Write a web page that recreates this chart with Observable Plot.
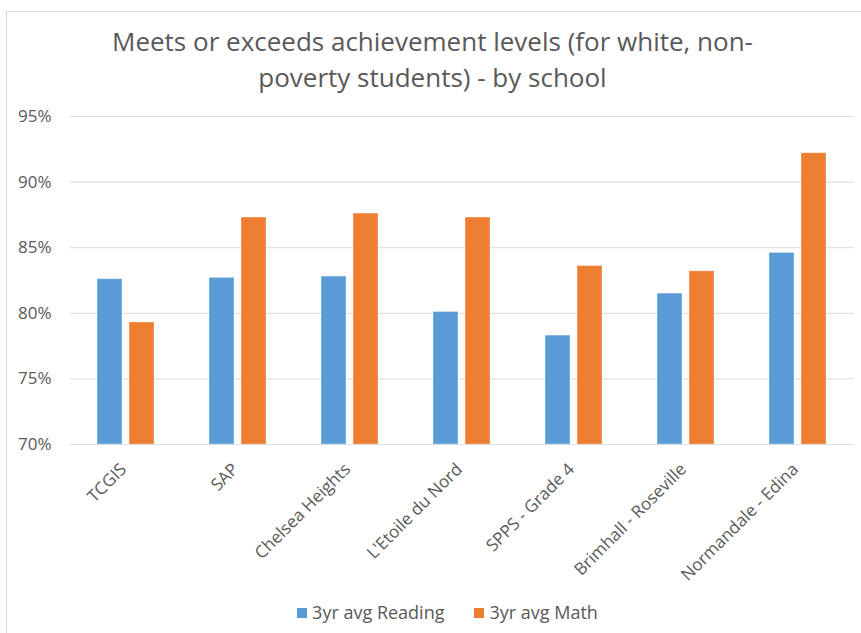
<!DOCTYPE html>
<html><head><meta charset="utf-8">
<script src="https://cdn.jsdelivr.net/npm/d3@7"></script>
<script src="https://cdn.jsdelivr.net/npm/@observablehq/plot@0.6"></script>
<style>
body{margin:0;background:#fff;font-family:"Open Sans",sans-serif;}
#chart{position:relative;width:861px;height:633px;overflow:hidden;}
#frame{position:absolute;left:6px;top:11px;width:900px;height:700px;border:1px solid #d9d9d9;box-sizing:border-box;}
#title{position:absolute;left:0;top:23px;width:861px;text-align:center;font-size:26px;line-height:36px;color:#595959;padding-left:4px;box-sizing:border-box;}
#plot{position:absolute;left:0;top:100px;}
#legend{position:absolute;left:0;top:600px;width:861px;display:flex;justify-content:center;gap:30px;font-size:18px;color:#595959;padding-left:34px;box-sizing:border-box;}
#legend span.sw{display:inline-block;width:10px;height:10px;margin-right:5px;vertical-align:middle;position:relative;top:-1px;}
</style></head>
<body>
<div id="chart">
<div id="frame"></div>
<div id="title">Meets or exceeds achievement levels (for white, non-<br>poverty students) - by school</div>
<div id="plot"></div>
<div id="legend"></div>
</div>
<script>
const schools = ["TCGIS","SAP","Chelsea Heights","L'Etoile du Nord","SPPS - Grade 4","Brimhall - Roseville","Normandale - Edina"];
const seriesNames = ["3yr avg Reading","3yr avg Math"];
const reading = [0.826,0.827,0.828,0.801,0.783,0.815,0.846];
const math = [0.793,0.873,0.876,0.873,0.836,0.832,0.922];
const colors = ["#5B9BD5","#ED7D31"];
const yTicks = [0.70,0.75,0.80,0.85,0.90,0.95];

const data = [];
schools.forEach((s,i)=>{
  data.push({school:s, series:seriesNames[0], value:reading[i]});
  data.push({school:s, series:seriesNames[1], value:math[i]});
});

const chart = Plot.plot({
  width: 861,
  height: 494,
  marginTop: 16,
  marginBottom: 150,
  marginLeft: 69,
  marginRight: 6,
  style: {fontFamily: '"Open Sans", sans-serif', fontSize: "15px", color: "#595959", background: "transparent"},
  fx: {domain: schools, padding: 0, label: null},
  x: {domain: seriesNames, paddingInner: 0.207, paddingOuter: 0.836, axis: null},
  y: {domain: [0.70, 0.95], label: null, axis: null},
  color: {domain: seriesNames, range: colors},
  marks: [
    Plot.gridY(yTicks, {stroke: "#d9d9d9", strokeOpacity: 1}),
    Plot.axisY(yTicks, {tickFormat: d3.format(".0%"), tickSize: 0, tickPadding: 19, fontSize: 17, fill: "#595959", facetAnchor: "left"}),
    Plot.barY(data, {fx: "school", x: "series", y1: 0.70, y2: "value", fill: "series", stroke: "#ffffff", strokeOpacity: 0.35, strokeWidth: 1}),
    Plot.ruleY([0.70], {stroke: "#d9d9d9"}),
    Plot.axisFx({anchor: "bottom", tickRotate: -45, tickSize: 0, tickPadding: 22, dx: -3, fontSize: 17, fill: "#595959", label: null})
  ]
});
document.getElementById("plot").appendChild(chart);

const legend = document.getElementById("legend");
seriesNames.forEach((n,i)=>{
  const d = document.createElement("div");
  d.innerHTML = `<span class="sw" style="background:${colors[i]}"></span>${n}`;
  legend.appendChild(d);
});
</script>
</body></html>
